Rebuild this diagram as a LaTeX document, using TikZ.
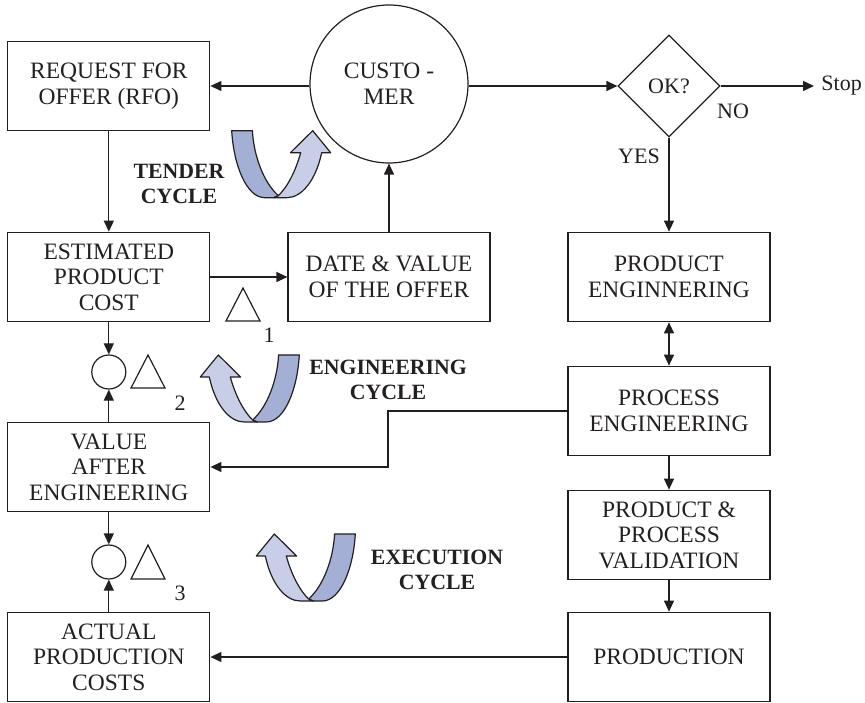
\documentclass[tikz,border=0pt]{standalone}
\usepackage{fontspec}
\setmainfont{Liberation Serif}
\usetikzlibrary{arrows.meta,shapes.geometric}
\definecolor{ink}{HTML}{231F20}
\definecolor{banddark}{HTML}{A4AFD6}
\definecolor{bandlight}{HTML}{C9CEE8}
\tikzset{
  every node/.style={text=ink,font=\fontsize{22}{25.6}\selectfont},
  boxtext/.style={font=\fontsize{23.5}{25.6}\selectfont},
  box/.style={boxtext,draw=ink,line width=1.2pt,minimum width=202pt,minimum height=89.5pt,align=center,inner sep=0pt},
  bigcircle/.style={boxtext,draw=ink,line width=1.2pt,circle,minimum size=158pt,inner sep=0pt,align=center},
  sumcircle/.style={draw=ink,line width=1.2pt,circle,minimum size=34pt,inner sep=0pt},
  okdiamond/.style={draw=ink,line width=1.2pt,diamond,aspect=1,minimum width=102pt,minimum height=102pt,inner sep=0pt},
  arr/.style={draw=ink,line width=1.2pt,-{Triangle[length=11pt,width=10pt]}},
  biarr/.style={draw=ink,line width=1.2pt,{Triangle[length=11pt,width=10pt]}-{Triangle[length=11pt,width=10pt]}},
  tri/.style={draw=ink,line width=1.2pt,line join=miter},
  cyc/.style={align=center,font=\fontsize{21.8}{25.6}\selectfont\bfseries},
  plain/.style={align=center,inner sep=0pt},
  band/.style={draw=ink,line width=1.2pt,line join=round},
  pics/cycle/.style={code={
    \path[band,fill=banddark] (0,0) -- (20.7,0) .. controls (22,25) and (32,52) .. (46.7,65)
       -- (42,67) -- (33,67) .. controls (15,67) and (2,35) .. (0,0) -- cycle;
    \path[band,fill=bandlight] (46.7,65) .. controls (56,56) and (64,40) .. (69,22)
       -- (58.7,22) -- (81,0) -- (99,22) -- (90,22) .. controls (84,50) and (70,67) .. (55,67)
       -- (42,67) -- cycle;
  }}
}
\begin{document}
\begin{tikzpicture}[x=1pt,y=-1pt]
\useasboundingbox (0,0) rectangle (865,703);
% boxes
\node[box] (rfo) at (108.8,86) {REQUEST FOR\\OFFER (RFO)};
\node[bigcircle] (cust) at (389,84) {CUSTO -\\MER};
\node[okdiamond] (ok) at (669,86) {OK?};
\coordinate (stopend) at (814,86);
\node[plain,anchor=east] (stop) at (862,86) {Stop};
\node[plain] (no) at (733,111) {NO};
\node[plain] (yes) at (639,156) {YES};
\node[box] (est) at (108.8,277) {ESTIMATED\\PRODUCT\\COST};
\node[box] (date) at (389,277) {DATE \& VALUE\\OF THE OFFER};
\node[box] (peng) at (669,277) {PRODUCT\\ENGINNERING};
\node[box] (proc) at (669,411) {PROCESS\\ENGINEERING};
\node[box] (val) at (669,535) {PRODUCT \&\\PROCESS\\VALIDATION};
\node[box] (prod) at (669,657) {PRODUCTION};
\node[box] (after) at (108.8,467) {VALUE\\AFTER\\ENGINEERING};
\node[box] (act) at (108.8,657) {ACTUAL\\PRODUCTION\\COSTS};
\node[sumcircle] (s1) at (108.8,372) {};
\node[sumcircle] (s2) at (108.8,562) {};
% triangles
\draw[tri] (243,288) -- (260,321) -- (226,321) -- cycle;
\draw[tri] (148,355) -- (165,388) -- (131,388) -- cycle;
\draw[tri] (148,545) -- (165,579) -- (131,579) -- cycle;
\node[plain] (n1) at (269,335) {1};
\node[plain] (n2) at (180,403) {2};
\node[plain] (n3) at (180,593) {3};
% cycle labels
\node[cyc] (ltender) at (179,184) {TENDER\\CYCLE};
\node[cyc] (lengin) at (388,380) {ENGINEERING\\CYCLE};
\node[cyc] (lexec) at (437,570) {EXECUTION\\CYCLE};
% cycle arrows
\pic at (231.7,130.7) {cycle};
\pic[xscale=-1] at (299.3,355) {cycle};
\pic[xscale=-1] at (355.3,534) {cycle};
% connectors
\draw[arr] (cust.west |- rfo.east) -- (rfo.east);
\draw[arr] (cust.east |- ok.west) -- (ok.west);
\draw[arr] (ok.east) -- (stopend);
\draw[arr] (ok.south) -- (peng.north);
\draw[arr] (rfo.south) -- (est.north);
\draw[arr] (est.east) -- (date.west);
\draw[arr] (date.north) -- (cust.south);
\draw[arr] (est.south) -- (s1.north);
\draw[arr] (after.north) -- (s1.south);
\draw[arr] (after.south) -- (s2.north);
\draw[arr] (act.north) -- (s2.south);
\draw[biarr] (peng.south) -- (proc.north);
\draw[arr] (proc.south) -- (val.north);
\draw[arr] (val.south) -- (prod.north);
\draw[arr] (prod.west) -- (act.east);
\draw[arr] (proc.west) -- (388,411) |- (after.east);
\end{tikzpicture}
\end{document}
